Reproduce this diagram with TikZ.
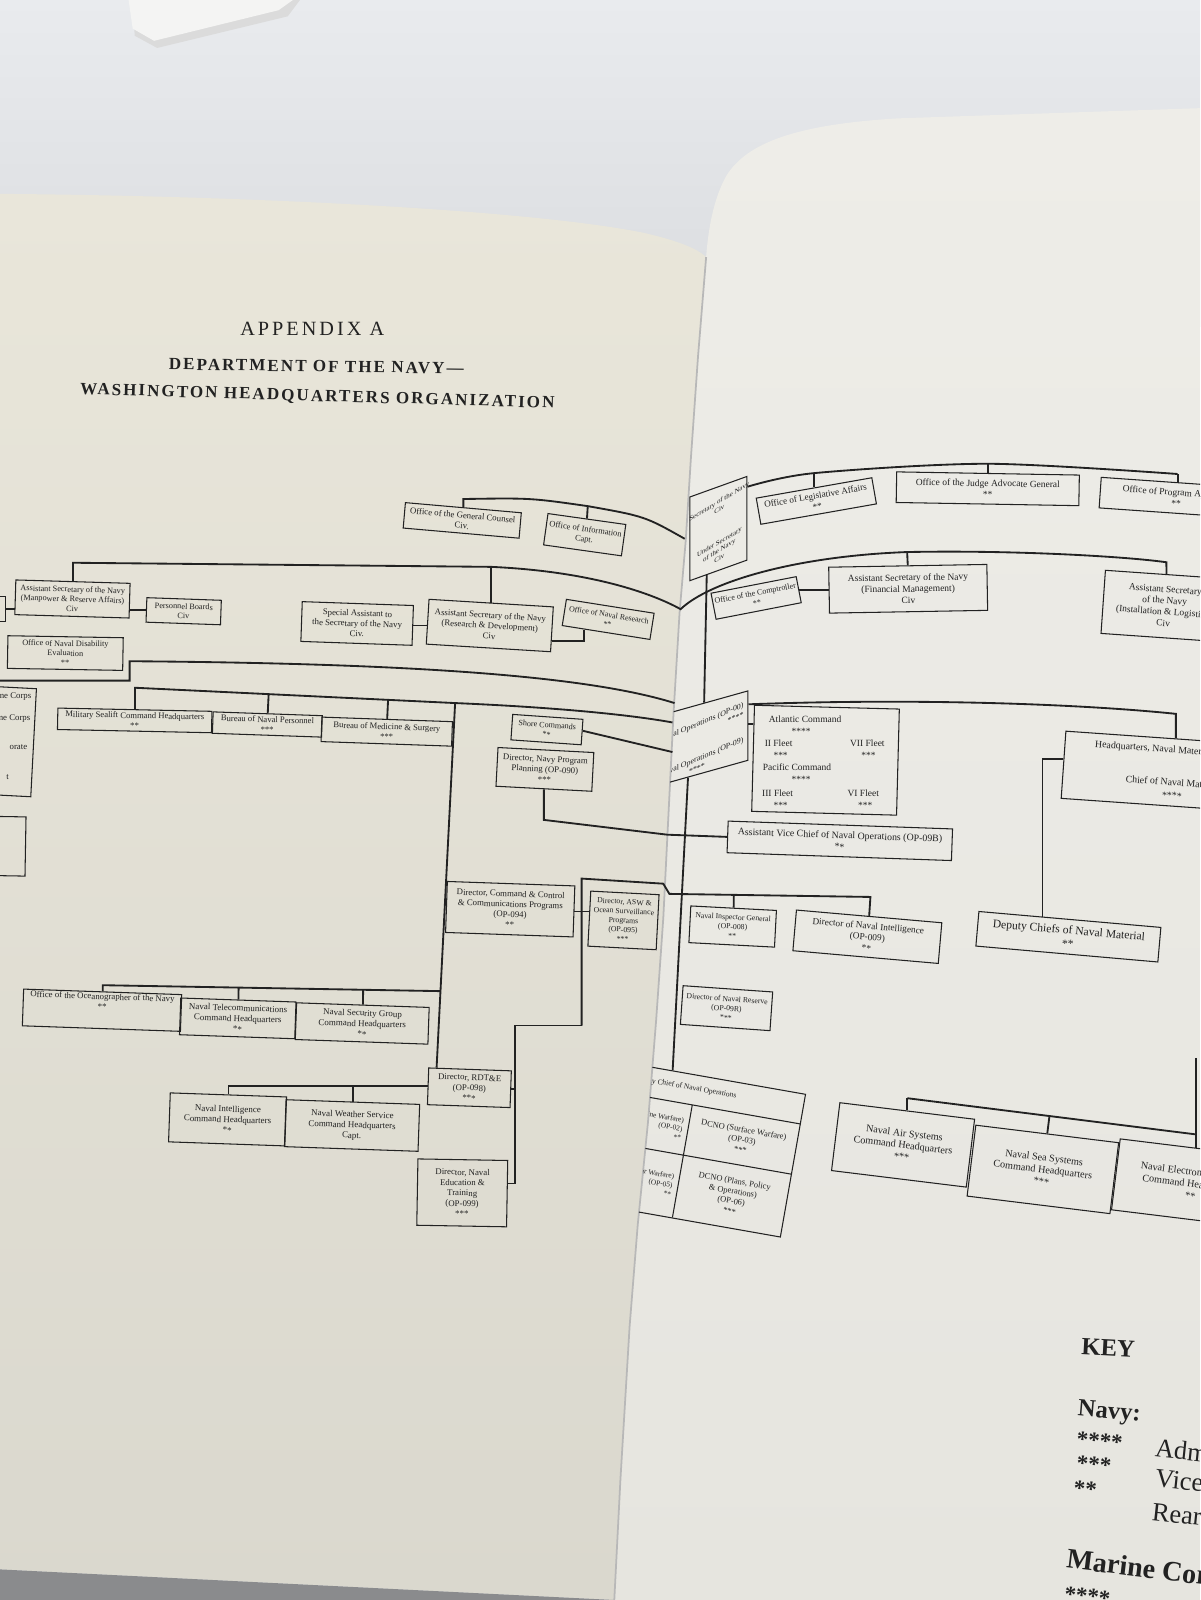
\documentclass[tikz,border=0pt]{standalone}
\usepackage{fontspec}
\setmainfont{Liberation Serif}
\usetikzlibrary{calc}
\definecolor{ink}{HTML}{222222}
\definecolor{deskT}{HTML}{E9EBEE}
\definecolor{deskB}{HTML}{DADCDF}
\definecolor{objw}{HTML}{F4F4F3}
\definecolor{pageLt}{HTML}{E9E6DA}
\definecolor{pageLb}{HTML}{DAD8CE}
\definecolor{pageRt}{HTML}{EEEDE8}
\definecolor{pageRb}{HTML}{E6E5DF}
\definecolor{shadowc}{HTML}{8A8B8D}
\newlength\pxu
\setlength\pxu{0.20408mm}
\newcommand\fsz[2]{\fontsize{#1}{#2}\selectfont}
\newcommand\obox[8][]{\node[bx,rotate=#7,minimum width=#5*\pxu,minimum height=#6*\pxu,#1] (#2) at (#3,#4) {#8};}
\begin{document}
\begin{tikzpicture}[x=0.20408mm,y=-0.20408mm,
  bx/.style={draw=ink,line width=0.6pt,align=center,inner sep=0pt,text=ink,font=\fsz{5}{5.9}},
  ln/.style={draw=ink,line width=1.05pt,line join=miter},
  tx/.style={text=ink,inner sep=0pt,font=\fsz{5.4}{6.4}},
  kx/.style={text=ink,inner sep=0pt,anchor=west}]
\useasboundingbox (0,0) rectangle (1176,1568);
\clip (0,0) rectangle (1176,1568);
% ---------- background ----------
\shade[top color=deskT,bottom color=deskB] (0,0) rectangle (1176,320);
\fill[deskB] (0,319) rectangle (1176,1568);
\fill[black!14] (130,0) -- (294,0) -- (282,16) -- (154,47) -- (132,35) -- cycle;
\fill[objw] (126,0) -- (287,0) -- (273,10) -- (151,40) -- (130,28) -- cycle;
\shade[top color=pageLt,bottom color=pageLb] (0,190) .. controls (250,192) and (520,206) .. (630,228) .. controls (665,236) and (684,244) .. (692,252) -- (684,350) -- (677,450) -- (672,530) -- (666,600) -- (660,700) -- (655,800) -- (650,900) -- (643,1000) -- (635,1100) -- (625,1200) -- (617,1300) -- (608,1450) -- (602,1568) -- (0,1538) -- cycle;
\fill[shadowc] (0,1538) -- (602,1568) -- (0,1568) -- cycle;
\shade[top color=pageRt,bottom color=pageRb] (1176,106) -- (880,116) .. controls (780,122) and (732,140) .. (712,172) .. controls (699,195) and (694,225) .. (692,252) -- (684,350) -- (677,450) -- (672,530) -- (666,600) -- (660,700) -- (655,800) -- (650,900) -- (643,1000) -- (635,1100) -- (625,1200) -- (617,1300) -- (608,1450) -- (602,1568) -- (1176,1568) -- cycle;
\draw[black!28,line width=1pt] (692,252) -- (684,350) -- (677,450) -- (672,530) -- (666,600) -- (660,700) -- (655,800) -- (650,900) -- (643,1000) -- (635,1100) -- (625,1200) -- (617,1300) -- (608,1450) -- (602,1568);
% ---------- titles ----------
\node[text=ink,font=\fsz{11.5}{13}\addfontfeatures{LetterSpace=15}] (title1) at (306,322) {APPENDIX A};
\node[text=ink,font=\bfseries\fsz{9.7}{11}\addfontfeatures{LetterSpace=12},rotate=-0.8] (title2) at (310,359) {DEPARTMENT OF THE NAVY—};
\node[text=ink,font=\bfseries\fsz{9.7}{11}\addfontfeatures{LetterSpace=12},rotate=-1.7] (title3) at (311,389) {WASHINGTON HEADQUARTERS ORGANIZATION};
% ---------- left page boxes ----------
\obox{gc}{453}{510}{114}{25}{-5}{Office of the General Counsel\\Civ.}
\obox[font=\fsz{4.8}{5.7}]{info}{573}{524}{77}{31}{-8}{Office of Information\\Capt.}
\obox[font=\fsz{4.7}{5.5}]{mra}{71}{587}{112}{34}{-1.7}{Assistant Secretary of the Navy\\(Manpower \& Reserve Affairs)\\Civ}
\obox[font=\fsz{4.7}{5.5}]{pb}{180}{599}{73}{24}{-2}{Personnel Boards\\Civ}
\obox{leftcut}{-12}{597}{34}{25}{0}{}
\obox[font=\fsz{4.7}{5.5}]{onde}{64}{640}{113}{32}{-1}{Office of Naval Disability\\Evaluation\\**}
\obox{spa}{350}{611}{109}{39}{-2}{Special Assistant to\\the Secretary of the Navy\\Civ.}
\obox{rd}{480}{613}{122}{44}{-3.5}{Assistant Secretary of the Navy\\(Research \& Development)\\Civ}
\obox[font=\fsz{4.5}{5.4}]{onr}{596}{607}{87}{26}{-9}{Office of Naval Research\\**}
\obox{marine}{-22}{725}{110}{106}{-3}{}
\node[tx,anchor=east,font=\fsz{5}{6}] (m1) at (31,683) {ine Corps};
\node[tx,anchor=east,font=\fsz{5}{6}] (m2) at (30,704) {ine Corps};
\node[tx,anchor=east,font=\fsz{5}{6}] (m3) at (27,732) {orate};
\node[tx,anchor=east,font=\fsz{5}{6}] (m4) at (9,762) {t};
\obox{part2}{-8}{829}{66}{58}{-1}{}
\obox[font=\fsz{4.9}{5.8}]{msc}{132}{706}{151}{21}{-1.2}{Military Sealift Command Headquarters\\**}
\obox[font=\fsz{4.9}{5.8}]{bnp}{262}{710}{107}{21}{-2}{Bureau of Naval Personnel\\***}
\obox[font=\fsz{4.9}{5.8}]{bms}{379}{717}{128}{24}{-2}{Bureau of Medicine \& Surgery\\***}
\obox[font=\fsz{4.6}{5.5}]{shore}{536}{715}{69}{25}{-4}{Shore Commands\\**}
\obox{dnpp}{534}{754}{94}{38}{-3}{Director, Navy Program\\Planning (OP-090)\\***}
\obox{cc}{500}{891}{125}{50}{-2}{Director, Command \& Control\\\& Communications Programs\\(OP-094)\\**}
\obox[font=\fsz{4.4}{5.3}]{asw}{611}{902}{67}{54}{-3}{Director, ASW \&\\Ocean Surveillance\\Programs\\(OP-095)\\***}
\obox{ocean}{100}{990}{155}{36}{-2}{Office of the Oceanographer of the Navy\\**\\[4pt]\mbox{}}
\obox[font=\fsz{5.1}{6}]{ntc}{233}{998}{113}{36}{-2}{Naval Telecommunications\\Command Headquarters\\**}
\obox[font=\fsz{5.1}{6}]{nsg}{355}{1003}{130}{36}{-2}{Naval Security Group\\Command Headquarters\\**}
\obox{rdte}{460}{1066}{81}{36}{-2}{Director, RDT\&E\\(OP-098)\\***}
\obox[font=\fsz{5.1}{6}]{nic}{223}{1097}{114}{48}{-2}{Naval Intelligence\\Command Headquarters\\**}
\obox[font=\fsz{5.1}{6}]{nws}{345}{1103}{131}{46}{-2}{Naval Weather Service\\Command Headquarters\\Capt.}
\obox{net}{453}{1169}{88}{65}{-1}{Director, Naval\\Education \&\\Training\\(OP-099)\\***}
% ---------- right page boxes ----------
\obox[font=\fsz{5.2}{6.2}]{leg}{800}{491}{115}{26}{10}{Office of Legislative Affairs\\**}
\obox[font=\fsz{5.4}{6.4}]{jag}{968}{479}{179}{30}{-1}{Office of the Judge Advocate General\\**}
\obox[font=\fsz{5.4}{6.4}]{prog}{1153}{488}{150}{30}{-4}{Office of Program Appraisal\\**}
\obox[font=\fsz{4.6}{5.6}]{comp}{741}{586}{85}{26}{11}{Office of the Comptroller\\**}
\obox[font=\fsz{5.4}{6.4}]{fm}{890}{577}{155}{45}{1}{Assistant Secretary of the Navy\\(Financial Management)\\Civ}
\obox[font=\fsz{5.4}{6.4}]{il}{1141}{594}{120}{62}{-4}{Assistant Secretary\\of the Navy\\(Installation \& Logistics)\\Civ}
\obox{atl}{809}{745}{142}{104}{-1.5}{}
\node[tx] (a1) at (789,705) {Atlantic Command};
\node[tx] (a2) at (785,717) {****};
\node[tx] (a3) at (763,728) {II Fleet};
\node[tx] (a4) at (765,740) {***};
\node[tx] (a5) at (850,728) {VII Fleet};
\node[tx] (a6) at (851,740) {***};
\node[tx] (a7) at (781,752) {Pacific Command};
\node[tx] (a8) at (785,764) {****};
\node[tx] (a9) at (762,777) {III Fleet};
\node[tx] (a10) at (765,789) {***};
\node[tx] (a11) at (846,777) {VI Fleet};
\node[tx] (a12) at (848,789) {***};
\obox[font=\fsz{5.6}{6.6}]{avcno}{823}{824}{220}{31}{-2}{Assistant Vice Chief of Naval Operations (OP-09B)\\**}
\obox[font=\fsz{5.6}{6.6}]{hqnm}{1150}{757}{216}{66}{-4}{Headquarters, Naval Material Command\\[12pt]Chief of Naval Material\\[1pt]****}
\obox[font=\fsz{4.4}{5.4}]{nig}{718}{908}{84}{36}{-3}{Naval Inspector General\\(OP-008)\\**}
\obox[font=\fsz{5.3}{6.3}]{dni}{850}{918}{143}{40}{-5}{Director of Naval Intelligence\\(OP-009)\\**}
\obox[font=\fsz{4.4}{5.4}]{dnr}{712}{988}{88}{38}{-4}{Director of Naval Reserve\\(OP-09R)\\***}
\obox[font=\fsz{6.6}{7.8}]{dcnm}{1047}{918}{179}{34}{-5}{Deputy Chiefs of Naval Material\\**}
\obox[font=\fsz{5.8}{6.8}]{nas}{885}{1122}{133}{67}{-7}{Naval Air Systems\\Command Headquarters\\***}
\obox[font=\fsz{5.8}{6.8}]{nss}{1022}{1146}{141}{70}{-7}{Naval Sea Systems\\Command Headquarters\\***}
\obox[font=\fsz{5.8}{6.8}]{nes}{1168}{1160}{150}{70}{-7}{Naval Electronic Systems\\Command Headquarters\\**}
% ---------- boxes at the gutter (clipped to the right page) ----------
\begin{scope}
\clip (692,252) -- (684,350) -- (677,450) -- (672,530) -- (666,600) -- (660,700) -- (655,800) -- (650,900) -- (643,1000) -- (635,1100) -- (625,1200) -- (617,1300) -- (608,1450) -- (602,1568) -- (1176,1568) -- (1176,106) -- cycle;
\node[bx,yslant=0.36,minimum width=56*\pxu,minimum height=82*\pxu] (secnav) at (704,518) {};
\node[text=ink,inner sep=0pt,yslant=0.6,align=center,font=\fsz{3.9}{4.6}] (snt) at (705,519) {Secretary of the Navy\\Civ\\[14pt]Under Secretary\\of the Navy\\Civ};
\node[bx,yslant=0.28,minimum width=78*\pxu,minimum height=68*\pxu] (cno) at (694,722) {};
\node[text=ink,inner sep=0pt,yslant=0.42,align=right,anchor=east,font=\fsz{4.5}{5.4}] (cnt) at (729,712) {Chief of Naval Operations (OP-00)\\****\hspace*{22pt}\\[9pt]Vice Chief of Naval Operations (OP-09)\\****\hspace*{22pt}};
\begin{scope}[shift={(790,1072)},rotate=-10]
\node[bx,transform shape,anchor=north east,minimum width=165*\pxu,minimum height=142*\pxu] (opnav) at (0,0) {};
\draw[ink,line width=0.6pt] (-165,30) -- (0,30) (-108,30) -- (-108,142) (-165,80) -- (0,80);
\node[tx,transform shape,font=\fsz{4.3}{5.1}] (op0) at (-118,14) {Deputy Chief of Naval Operations};
\node[tx,transform shape,align=center,font=\fsz{4.8}{5.8}] (op3) at (-54,55) {DCNO (Surface Warfare)\\(OP-03)\\***};
\node[tx,transform shape,align=center,font=\fsz{4.8}{5.8}] (op6) at (-54,111) {DCNO (Plans, Policy\\\& Operations)\\(OP-06)\\***};
\node[tx,transform shape,align=right,anchor=east,font=\fsz{4.2}{5.2}] (op2) at (-113,55) {DCNO (Submarine Warfare)\\(OP-02)\\**};
\node[tx,transform shape,align=right,anchor=east,font=\fsz{4.2}{5.2}] (op5) at (-113,111) {DCNO (Air Warfare)\\(OP-05)\\**};
\end{scope}
\end{scope}
% ---------- left page connectors ----------
\draw[ln] (gc.north) -- ++(0,-8) coordinate (a0) .. controls (520,488) .. (576,496) coordinate (a1) .. controls (632,506) .. (671,528) coordinate (gA);
\draw[ln] (info.north) -- (a1);
\draw[ln] (mra.north) -- ++(0,-18) coordinate (s0) -- ($(rd.north)+(0,-35)$) coordinate (s1) .. controls (580,560) and (640,582) .. (667,597) coordinate (gB) .. controls (695,570) and (780,545) .. (889,541) coordinate (r5) .. controls (990,539) and (1100,545) .. (1143,551) coordinate (r7) -- (il.north);
\draw[ln] (rd.north) -- (s1);
\draw[ln] (fm.north) -- (r5);
\draw[ln] (pb.west) -- (pb.west -| mra.east);
\draw[ln] (leftcut.east) -- (leftcut.east -| mra.west);
\draw[ln] (spa.east) -- (spa.east -| rd.west);
\draw[ln] ($(rd.north east)!0.75!(rd.south east)$) -| ($(onr.south west)!0.25!(onr.south east)$);
\coordinate (mL) at (-5,667);
\draw[ln] (mL) -- (127,667) -- (127,648) .. controls (400,650) and (575,662) .. (661,689) coordinate (gC);
\draw[ln] (msc.north) -- ++(0,-21) coordinate (b0) -- (446,689) coordinate (b1) .. controls (540,693) and (615,700) .. (659,708) coordinate (gD);
\draw[ln] (bnp.north) -- ($(b0)!(bnp.north)!(b1)$);
\draw[ln] (bms.north) -- ($(b0)!(bms.north)!(b1)$);
\draw[ln] (b1) -- ($(rdte.north west)!0.1!(rdte.north east)$) coordinate (b2);
\draw[ln] ($(shore.north east)!0.45!(shore.south east)$) -- (659,737) coordinate (gS);
\draw[ln] (dnpp.south) -- ++(0,30) coordinate (d1) -- (654,818) coordinate (gE) -- (avcno.west);
\coordinate (v0) at (570,861);
\coordinate (v1) at (570,1005);
\coordinate (v2) at (505,1005);
\draw[ln] (v1) -- (v0) -- (650,866) -- (656,876) coordinate (vA) -- (853,879) coordinate (vB) -- (dni.north);
\draw[ln] (nig.north) -- ($(vA)!(nig.north)!(vB)$);
\draw[ln] (cc.east) -- (cc.east -| asw.west);
\draw[ln] (v1) -- (v2) |- ($(net.north east)!0.35!(net.south east)$);
\draw[ln] (rdte.east) -- (rdte.east -| v2);
\draw[ln] (ocean.north) -- ++(0,-6) coordinate (o0) -- ($(b1)!0.79!(b2)$) coordinate (o1);
\draw[ln] (ntc.north) -- ($(o0)!(ntc.north)!(o1)$);
\draw[ln] (nsg.north) -- ($(o0)!(nsg.north)!(o1)$);
\draw[ln] (rdte.west) -| (nic.north);
\draw[ln] (nws.north) -- (nws.north |- rdte.west);
% ---------- right page connectors ----------
\coordinate (sA) at ($(secnav.north east)!0.13!(secnav.south east)$);
\coordinate (r1) at ($(leg.north)+(0,-14)$);
\coordinate (r2) at ($(jag.north)+(0,-9)$);
\coordinate (r3) at ($(prog.north)+(0,-8)$);
\draw[ln] plot[smooth,tension=0.5] coordinates {(sA) (r1) (r2) (r3)};
\draw[ln] (r1) -- (leg.north);
\draw[ln] (r2) -- (jag.north);
\draw[ln] (r3) -- (prog.north);
\draw[ln] (comp.east) -- (comp.east -| fm.west);
\draw[ln] ($(secnav.south west)!0.3!(secnav.south east)$) -- ($(cno.north west)!0.45!(cno.north east)$);
\draw[ln] ($(cno.north east)!0.2!(cno.south east)$) .. controls (900,684) and (1060,690) .. ($(hqnm.north)+(0,-24)$) coordinate (h0) -- (hqnm.north);
\draw[ln] ($(cno.north east)!0.48!(cno.south east)$) coordinate (c2) -- (c2 -| atl.west);
\draw[ln] ($(cno.south west)!0.25!(cno.south east)$) -- ($(opnav.north west)!0.2!(opnav.north east)$);
\draw[ln] ($(hqnm.north west)!0.42!(hqnm.south west)$) -| ($(dcnm.north west)!0.35!(dcnm.north east)$);
\draw[ln] (nas.north) -- ++(0,-12) coordinate (nb1);
\coordinate (nb3) at ($(nes.north)+(0,-13)$);
\draw[ln] (nb1) -- (nb3);
\draw[ln] (nss.north) -- ($(nb1)!(nss.north)!(nb3)$);
\coordinate (vt) at ($(nes.north)+(0,-88)$);
\draw[ln] (vt) -- (nes.north);
% ---------- key ----------
\node[text=ink,font=\bfseries\fsz{14}{16},rotate=-3] (key) at (1086,1321) {KEY};
\node[kx,font=\bfseries\fsz{14}{16},rotate=-5] (knavy) at (1056,1382) {Navy:};
\node[kx,font=\bfseries\fsz{13}{15},rotate=-5] (k4) at (1055,1410) {****};
\node[kx,font=\bfseries\fsz{13}{15},rotate=-5] (k3) at (1055,1434) {***};
\node[kx,font=\bfseries\fsz{13}{15},rotate=-5] (k2) at (1052,1458) {**};
\node[kx,font=\fsz{15}{17},rotate=-6] (kadm) at (1132,1419) {Admiral};
\node[kx,font=\fsz{15}{17},rotate=-6] (kvadm) at (1132,1448) {Vice Admiral};
\node[kx,font=\fsz{15}{17},rotate=-6] (kradm) at (1129,1481) {Rear Admiral};
\node[kx,font=\bfseries\fsz{16}{18},rotate=-7] (kmc) at (1045,1530) {Marine Corps:};
\node[kx,font=\bfseries\fsz{13}{15},rotate=-6] (kmc4) at (1043,1562) {****};
\node[kx,font=\fsz{15}{17},rotate=-6] (kgen) at (1130,1580) {General};
\end{tikzpicture}
\end{document}
